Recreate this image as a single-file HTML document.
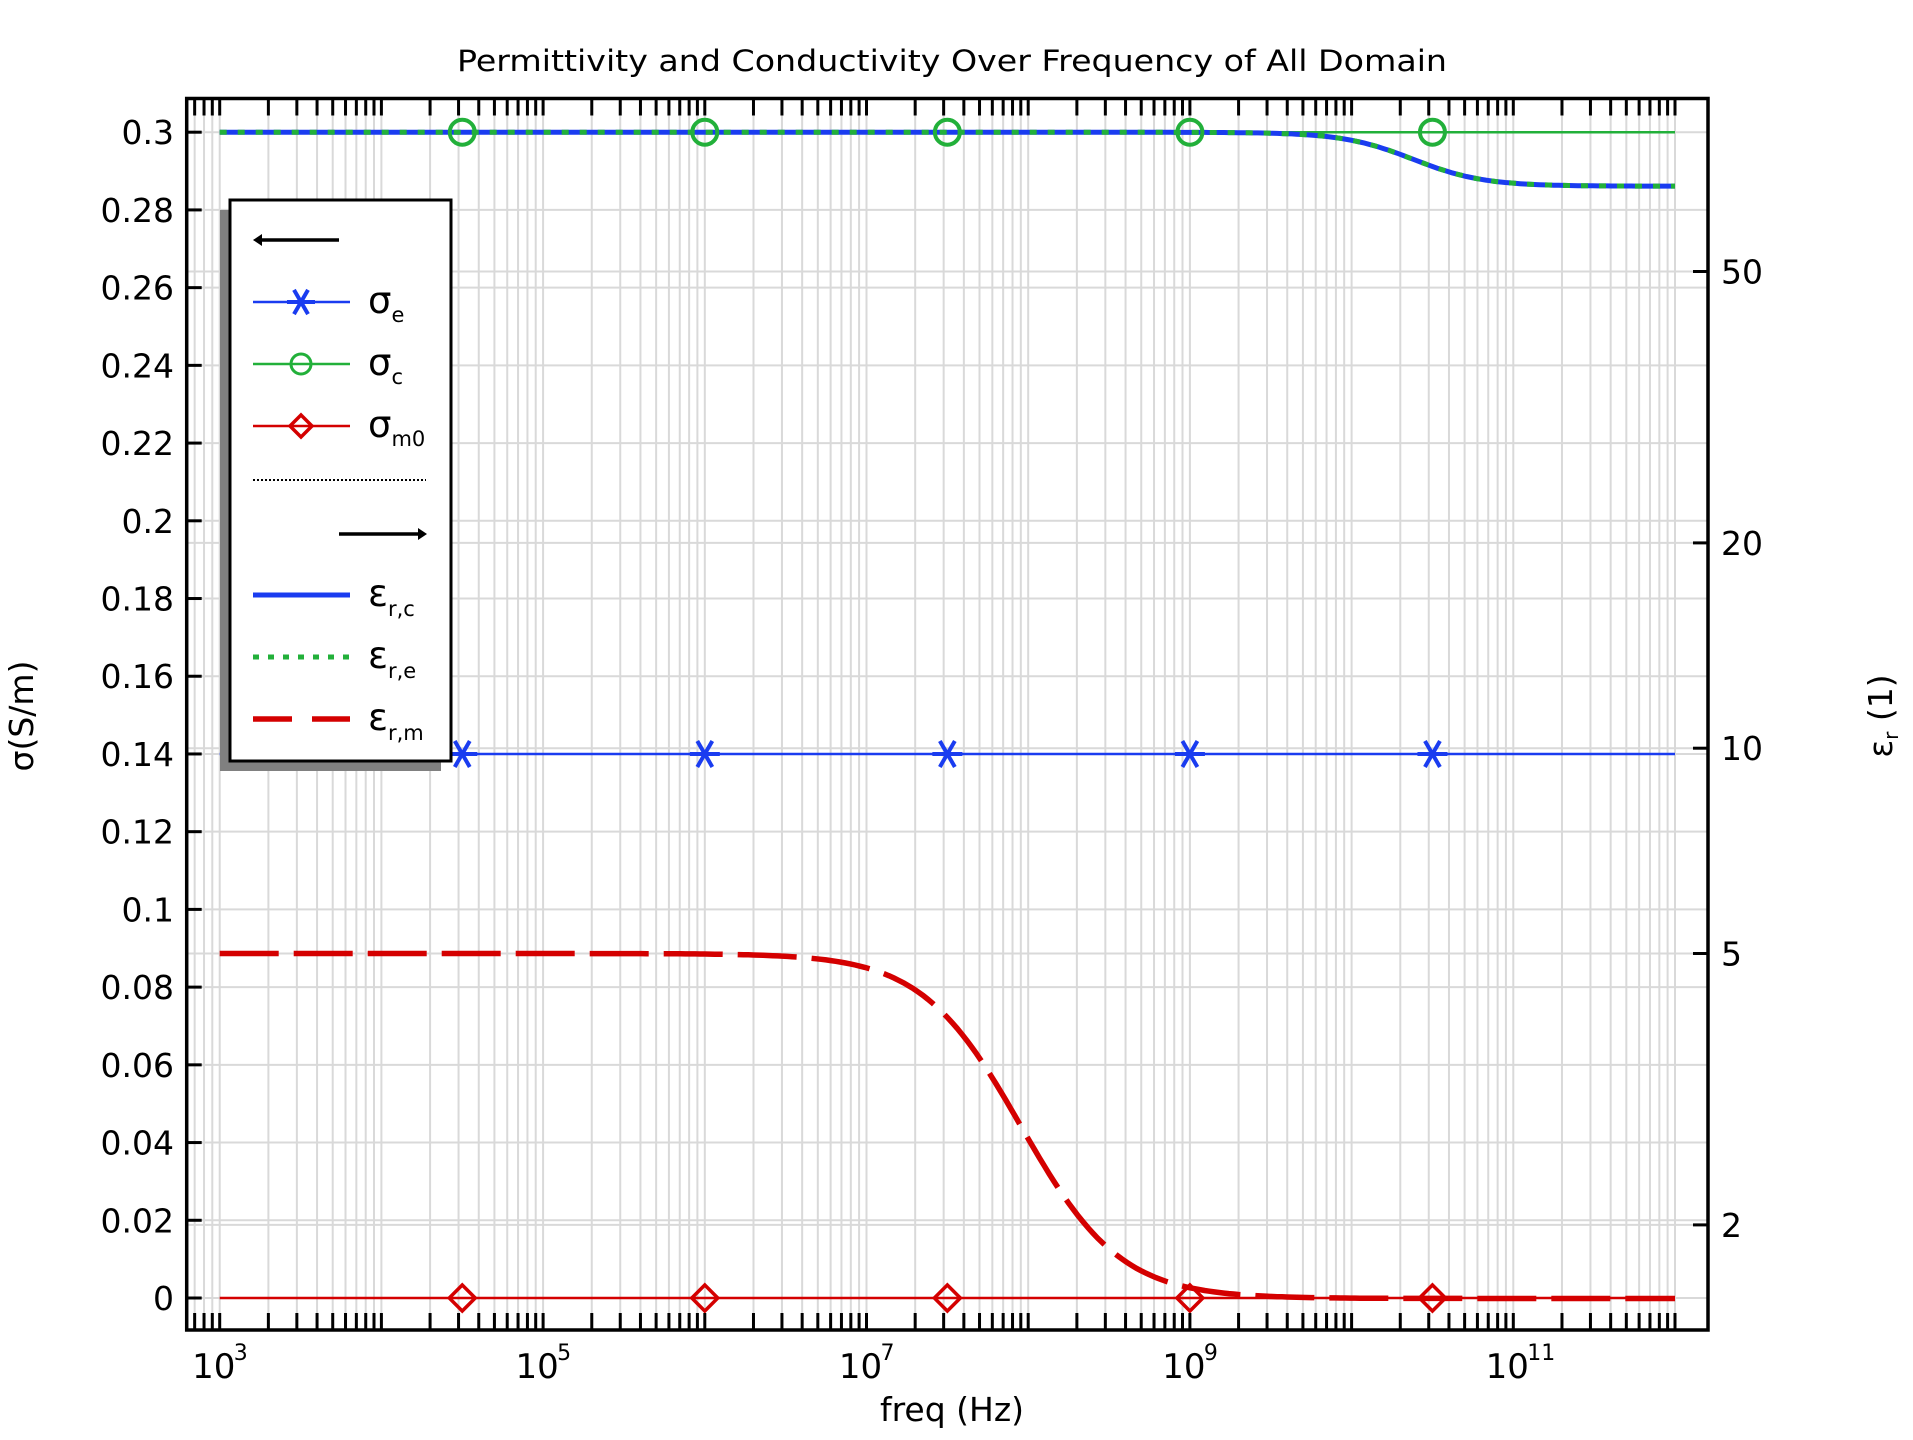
<!DOCTYPE html>
<html><head><meta charset="utf-8"><style>
html,body{margin:0;padding:0;background:#fff;}
svg text{font-family:"DejaVu Sans","Liberation Sans",sans-serif;fill:#000;}
</style></head><body>
<svg id="s" width="1913" height="1435" xmlns="http://www.w3.org/2000/svg">
<rect width="1913" height="1435" fill="#fff"/>
<g id="grid"></g>
<g id="data"></g>
<g id="axes"></g>
<g id="legend"></g>
<text x="952" y="71" font-size="29" text-anchor="middle" textLength="990" lengthAdjust="spacingAndGlyphs">Permittivity and Conductivity Over Frequency of All Domain</text>
<text x="952" y="1421" font-size="33" text-anchor="middle">freq (Hz)</text>
<text transform="translate(33,716) rotate(-90)" font-size="33" text-anchor="middle">σ(S/m)</text>
<text transform="translate(1892,716) rotate(-90)" font-size="33" text-anchor="middle">ε<tspan font-size="20" dy="6">r</tspan><tspan dy="-6"> (1)</tspan></text>
</svg>
<script>
const NS="http://www.w3.org/2000/svg";
const L=186.7,R=1708,T=98.5,B=1330;
const X=lf=>219.7+(lf-3)*161.7;
const YL=v=>1298-v*3886;
const YR=e=>748.2-682*Math.log10(e/10);
function el(p,tag,a,txt){const e=document.createElementNS(NS,tag);for(const k in a)e.setAttribute(k,a[k]);if(txt!==undefined)e.textContent=txt;document.getElementById(p).appendChild(e);return e;}
let gx=[];
for(let d=2;d<=12;d++)for(let m=1;m<=9;m++){const lf=d+Math.log10(m);const x=X(lf);if(x>L+1&&x<R-1)gx.push([x,m==1]);}
gx.forEach(([x])=>el('grid','line',{x1:x,y1:T,x2:x,y2:B,stroke:'#d9d9d9','stroke-width':2}));
for(let i=0;i<=15;i++){const y=YL(i*0.02);el('grid','line',{x1:L,y1:y,x2:R,y2:y,stroke:'#d9d9d9','stroke-width':2});}
[50,20,10,5,2].forEach(e=>{const y=YR(e);el('grid','line',{x1:L,y1:y,x2:R,y2:y,stroke:'#d9d9d9','stroke-width':2});});
function path(fn,a,b,n){let d='';for(let i=0;i<=n;i++){const lf=a+(b-a)*i/n;d+=(i?'L':'M')+X(lf).toFixed(1)+' '+fn(Math.pow(10,lf)).toFixed(1);}return d;}
const epsC=f=>{const r=Math.pow(f/Math.pow(10,10.36),2);return YR(66.7+13.3/(1+r));};
const epsM=f=>{const r=Math.pow(f/Math.pow(10,7.78),1.45);return YR(1.56+3.44/(1+r));};
const mk=[4.5,6,7.5,9,10.5];
el('data','line',{x1:X(3),y1:YL(0.3),x2:X(12),y2:YL(0.3),stroke:'#22b03a','stroke-width':2.5});
el('data','line',{x1:X(3),y1:YL(0.14),x2:X(12),y2:YL(0.14),stroke:'#1a3cf0','stroke-width':2.5});
el('data','line',{x1:X(3),y1:YL(0),x2:X(12),y2:YL(0),stroke:'#d40000','stroke-width':2.5});
el('data','path',{d:path(epsC,3,12,300),fill:'none',stroke:'#1a3cf0','stroke-width':5});
el('data','path',{d:path(epsC,3,12,300),fill:'none',stroke:'#22b03a','stroke-width':5,'stroke-dasharray':'7 11'});
el('data','path',{d:path(epsM,3,12,300),fill:'none',stroke:'#d40000','stroke-width':5.5,'stroke-dasharray':'59 15'});
function star(g,cx,cy,r,c){for(let a=0;a<180;a+=60){const t=a*Math.PI/180;el(g,'line',{x1:cx-r*Math.cos(t),y1:cy-r*Math.sin(t),x2:cx+r*Math.cos(t),y2:cy+r*Math.sin(t),stroke:c,'stroke-width':4});}}
function diam(g,cx,cy,r,c){el(g,'path',{d:`M${cx} ${cy-r}L${cx+r} ${cy}L${cx} ${cy+r}L${cx-r} ${cy}Z`,fill:'none',stroke:c,'stroke-width':3.5});}
mk.forEach(lf=>{const x=X(lf);
 el('data','circle',{cx:x,cy:YL(0.3),r:12.5,fill:'none',stroke:'#22b03a','stroke-width':4});
 star('data',x,YL(0.14),15,'#1a3cf0');
 diam('data',x,YL(0),13,'#d40000');});
el('axes','rect',{x:L,y:T,width:R-L,height:B-T,fill:'none',stroke:'#000','stroke-width':3.5});
gx.forEach(([x])=>{el('axes','line',{x1:x,y1:T,x2:x,y2:T+17,stroke:'#000','stroke-width':3});el('axes','line',{x1:x,y1:B,x2:x,y2:B-17,stroke:'#000','stroke-width':3});});
const labs=['0','0.02','0.04','0.06','0.08','0.1','0.12','0.14','0.16','0.18','0.2','0.22','0.24','0.26','0.28','0.3'];
labs.forEach((t,i)=>{const y=YL(i*0.02);el('axes','line',{x1:L,y1:y,x2:L+15,y2:y,stroke:'#000','stroke-width':3});el('axes','text',{x:174,y:y+12,'font-size':33,'text-anchor':'end'},t);});
[50,20,10,5,2].forEach(e=>{const y=YR(e);el('axes','line',{x1:R,y1:y,x2:R-15,y2:y,stroke:'#000','stroke-width':3});el('axes','text',{x:1721,y:y+12,'font-size':33},String(e));});
[3,5,7,9,11].forEach(p=>{const x=X(p);el('axes','text',{x:x-6,y:1378,'font-size':34,'text-anchor':'middle'},'10');el('axes','text',{x:x+14,y:1360,'font-size':22},String(p));});
el('legend','rect',{x:220,y:210,width:221,height:561,fill:'#808080'});
el('legend','rect',{x:230,y:200,width:221,height:561,fill:'#fff',stroke:'#000','stroke-width':3});
const lx1=253,lx2=350,tx=368;
el('legend','line',{x1:258,y1:240,x2:339,y2:240,stroke:'#000','stroke-width':3.5});
el('legend','path',{d:'M253 240L262 234L262 246Z',fill:'#000'});
function item(y,c,m,sub){el('legend','line',{x1:lx1,y1:y,x2:lx2,y2:y,stroke:c,'stroke-width':2.5});
 if(m=='s')star('legend',301,y,14,c);if(m=='c')el('legend','circle',{cx:301,cy:y,r:10,fill:'none',stroke:c,'stroke-width':3});if(m=='d')diam('legend',301,y,11,c);
 const t=el('legend','text',{x:tx,y:y+11,'font-size':37},'σ');const s=document.createElementNS(NS,'tspan');s.setAttribute('font-size','21');s.setAttribute('dy','9');s.textContent=sub;t.appendChild(s);}
item(302,'#1a3cf0','s','e');item(364,'#22b03a','c','c');item(426,'#d40000','d','m0');
el('legend','line',{x1:253,y1:480,x2:426,y2:480,stroke:'#000','stroke-width':2,'stroke-dasharray':'2 2'});
el('legend','line',{x1:339,y1:534,x2:420,y2:534,stroke:'#000','stroke-width':3.5});
el('legend','path',{d:'M427 534L418 528L418 540Z',fill:'#000'});
function eitem(y,c,dash,w,sub){const a={x1:lx1,y1:y,x2:lx2,y2:y,stroke:c,'stroke-width':w};if(dash)a['stroke-dasharray']=dash;el('legend','line',a);
 const t=el('legend','text',{x:tx,y:y+11,'font-size':37},'ε');const s=document.createElementNS(NS,'tspan');s.setAttribute('font-size','21');s.setAttribute('dy','10');s.textContent=sub;t.appendChild(s);}
eitem(595,'#1a3cf0',null,5,'r,c');eitem(657,'#22b03a','6 9',5,'r,e');eitem(719,'#d40000','39 20',5.5,'r,m');
</script>
</body></html>
